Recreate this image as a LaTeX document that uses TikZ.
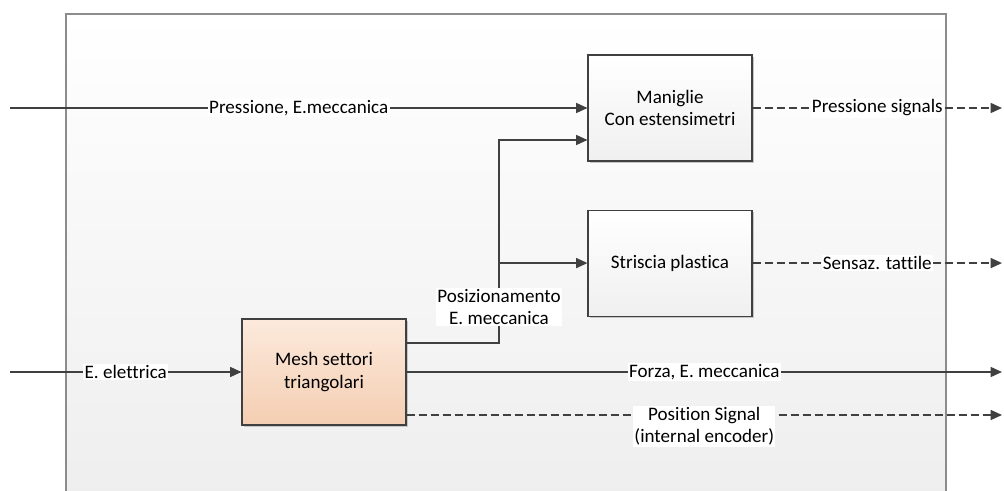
\documentclass[tikz,border=0pt]{standalone}
\usepackage{fontspec}
\setmainfont{Carlito}[Ligatures=NoCommon]
\usetikzlibrary{arrows.meta,positioning,shadows}
\definecolor{linegray}{RGB}{64,64,64}
\definecolor{framegray}{RGB}{140,140,140}
\definecolor{peachtop}{RGB}{252,234,220}
\definecolor{peachbot}{RGB}{244,206,178}

\begin{document}
\begin{tikzpicture}[
  x=0.75pt, y=-0.75pt,
  font=\fontsize{14.3}{17}\selectfont,
  box/.style={draw=linegray,line width=0.8pt,top color=white,bottom color=gray!12,align=center,minimum width=123pt,minimum height=79.5pt,drop shadow={shadow xshift=1.2pt,shadow yshift=-1.2pt,fill=gray!45,opacity=1}},
  arr/.style={-{Triangle[length=8.5pt,width=7.5pt]},line width=1.1pt,linegray},
  sig/.style={arr,dash pattern=on 6pt off 3pt},
  lbl/.style={fill=white,inner sep=1pt,align=center,text=black}
]
\useasboundingbox (0,0) rectangle (1004,491);
% system frame
\fill[top color=white,bottom color=gray!13] (66,14) rectangle (946,491);
\draw[framegray,line width=0.9pt] (66,491) |- (946,14) -- (946,491);

\node[box] (mani) at (670,108) {Maniglie\\Con estensimetri};
\node[box,below=36pt of mani] (strip) {Striscia plastica};
\node[box,top color=peachtop,bottom color=peachbot] (mesh) at (324,372) {Mesh settori\\triangolari};

\coordinate (inP) at (10,108);
\coordinate (inE) at (10,372);
\coordinate (jtop) at (499,140);

% inputs
\draw[arr] (inP) -- node[lbl]{Pressione, E.meccanica} (inP -| mani.west);
\draw[arr] (inE) -- node[lbl]{E. elettrica} (mesh.west);

% positioning branch
\draw[arr] (mesh.east |- 0,343) -| (jtop) -- (jtop -| mani.west);
\draw[arr] (jtop |- strip.west) -- (strip.west);
\node[lbl] (poslbl) at (499,307) {Posizionamento\\E. meccanica};

% outputs
\draw[sig] (mani.east) -- node[lbl]{Pressione signals} (mani.east -| 1002,0);
\draw[sig] (strip.east) -- node[lbl]{Sensaz. tattile} (strip.east -| 1002,0);
\draw[arr] (mesh.east) -- node[lbl]{Forza, E. meccanica} (mesh.east -| 1002,0);
\draw[sig] (mesh.east |- 0,415) -- node[lbl,yshift=-8.5pt]{Position Signal\\(internal encoder)} (1002,415);
\end{tikzpicture}
\end{document}
